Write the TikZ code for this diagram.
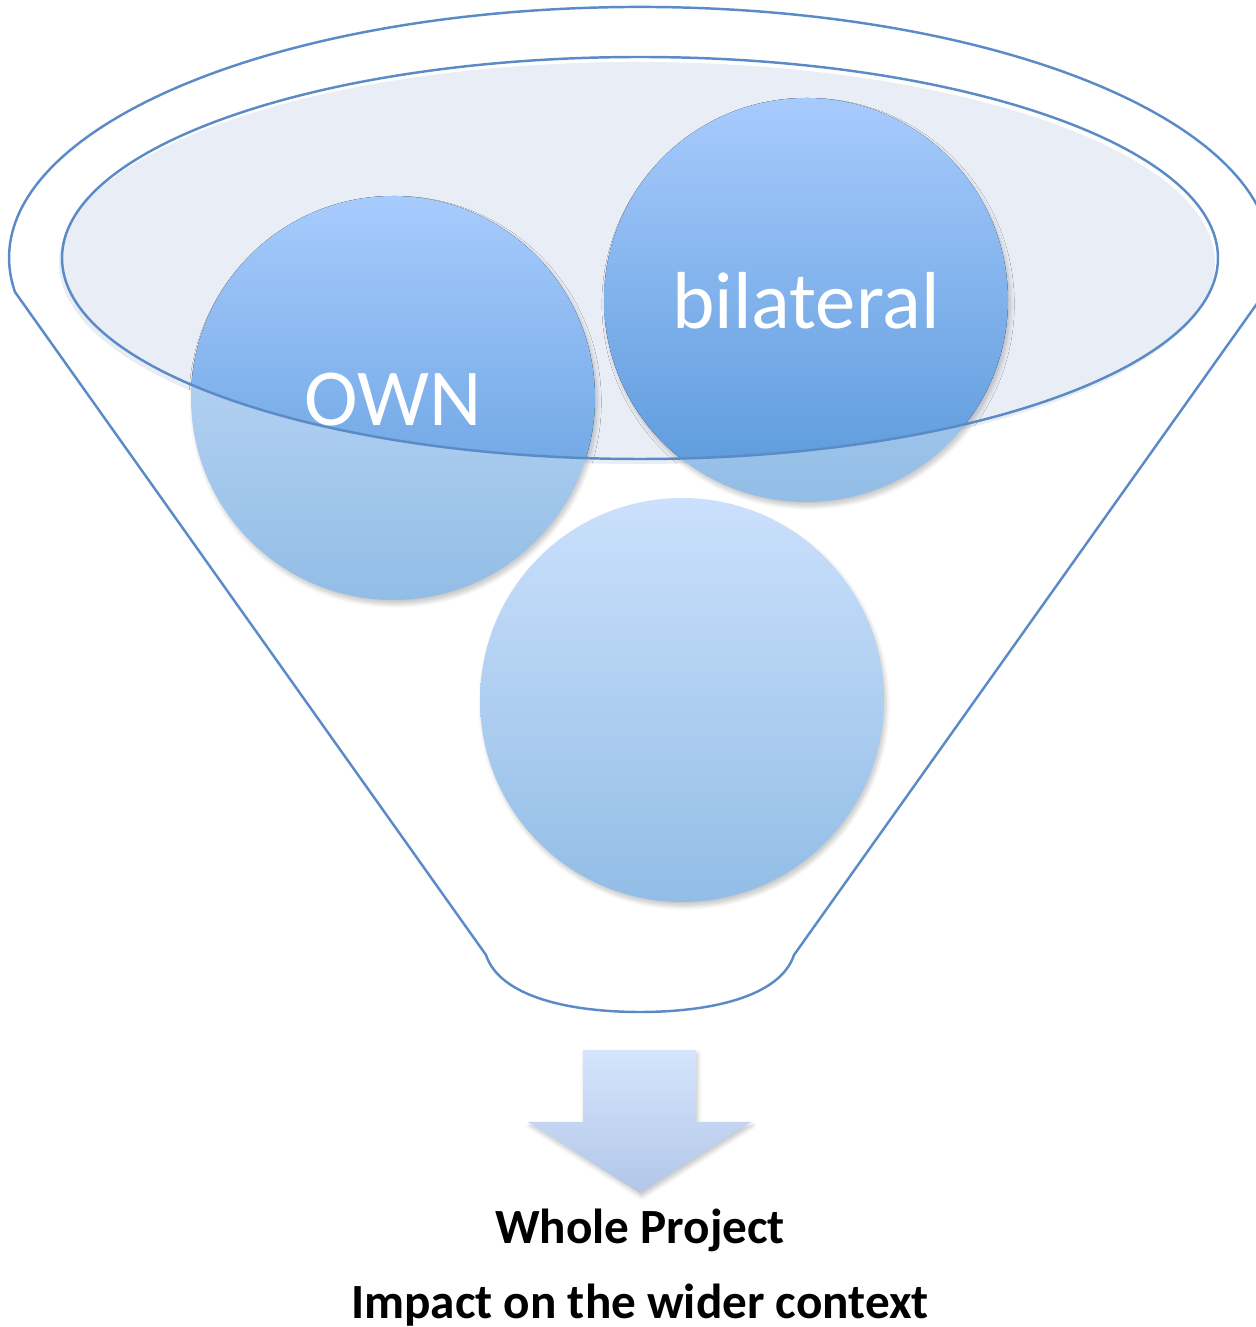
\documentclass[tikz,border=0pt]{standalone}
\usepackage{fontspec}
\setmainfont{Carlito}
\usetikzlibrary{shadows.blur,positioning}

\definecolor{rimline}{HTML}{5A8BC6}
\definecolor{rimfill}{HTML}{E9EDF5}
\definecolor{balltop}{HTML}{CBE0FC}
\definecolor{ballbot}{HTML}{92BDE6}
\definecolor{deeptop}{HTML}{A8CBFD}
\definecolor{deepbot}{HTML}{5898DA}
\definecolor{arrtop}{HTML}{D4E5FD}
\definecolor{arrbot}{HTML}{B2C6E8}

\tikzset{
  rim/.style={draw=rimline, line width=0.7pt},
  ball/.style={top color=balltop, bottom color=ballbot,
    blur shadow={shadow xshift=0.6pt, shadow yshift=-1.2pt, shadow opacity=22,
      shadow blur radius=1.2pt, shadow blur steps=6}},
  deepball/.style={top color=deeptop, bottom color=deepbot},
  ballword/.style={text=white, inner sep=0pt, font=\fontsize{23}{27}\selectfont},
  result/.style={anchor=base, inner sep=0pt, font=\fontsize{14}{17}\selectfont\bfseries},
}

\begin{document}
\begin{tikzpicture}
    \useasboundingbox (0,0) rectangle (12.56,13.27);
    % Funnel
    \draw[rim] (0.15,10.35) arc[start angle=187.8, end angle=-7.8, x radius=6.31, y radius=2.51]
        -- (7.94,3.72) .. controls (7.80,3.30) and (7.10,3.15) .. (6.40,3.15)
        .. controls (5.70,3.15) and (5.00,3.30) .. (4.86,3.72) -- cycle;
    % Mouth
    \fill[rimfill] (6.37,10.64) ellipse [x radius=5.78, y radius=2.01];
    % Balls
    \path[ball] (3.93,9.29) circle (2.02);
    \path[ball] (8.06,10.27) circle (2.02);
    \path[ball] (6.82,6.27) circle (2.02);
    % darker where they sit inside the mouth
    \begin{scope}
        \clip (6.40,10.69) ellipse [x radius=5.78, y radius=2.01];
        \fill[deepball] (3.93,9.29) circle (2.02);
        \fill[deepball] (8.06,10.27) circle (2.02);
    \end{scope}
    \draw[rim] (6.40,10.69) ellipse [x radius=5.78, y radius=2.01];
    \node[ballword] (own) at (3.93,9.27) {OWN};
    \node[ballword] (bilat) at (8.06,10.26) {bilateral};
    % Arrow
    \path[top color=arrtop, bottom color=arrbot,
        blur shadow={shadow xshift=0.5pt, shadow yshift=-1pt, shadow opacity=22,
          shadow blur radius=1.2pt, shadow blur steps=5}]
        (5.83,2.77) -- (6.96,2.77) -- (6.96,2.05) -- (7.51,2.05) -- (6.40,1.34)
        -- (5.28,2.05) -- (5.83,2.05) -- cycle;
    \node[result] (whole) at (6.40,0.84) {Whole Project};
    \node[result] (impact) at (6.40,0.09) {Impact on the wider context};
\end{tikzpicture}
\end{document}
